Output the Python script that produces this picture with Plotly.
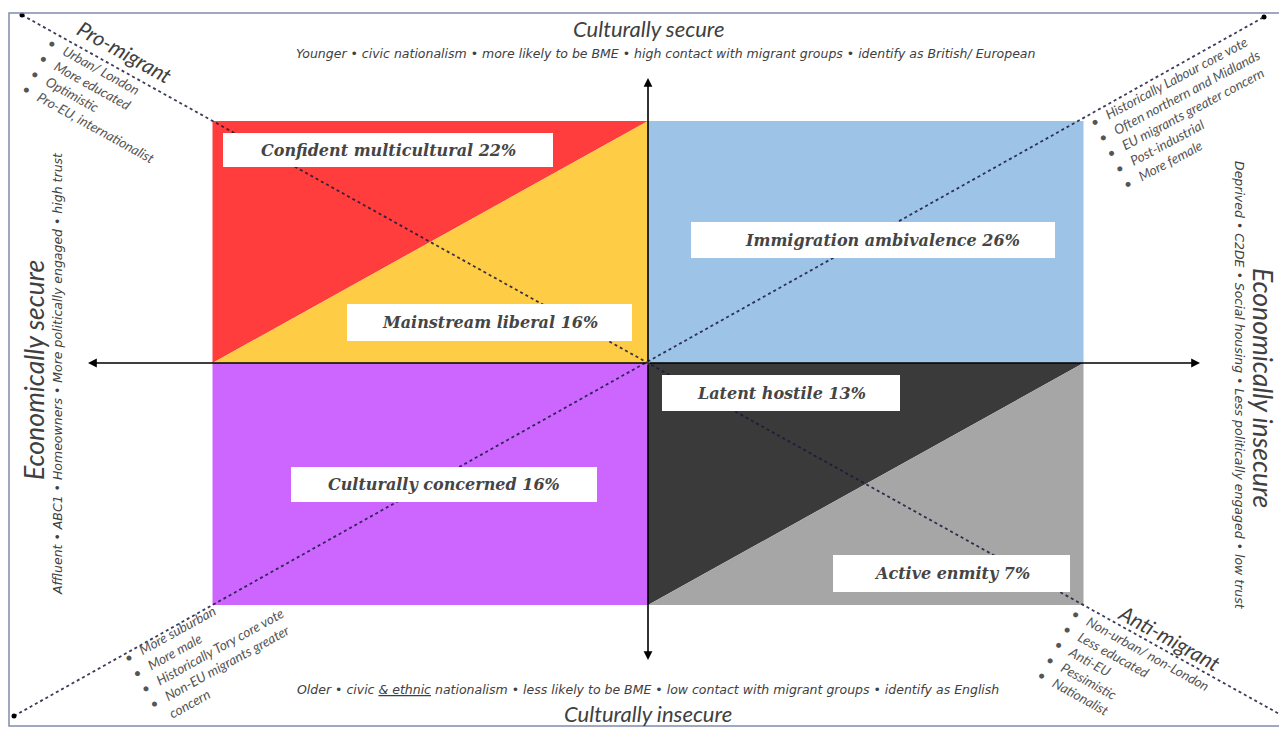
import plotly.graph_objects as go

# ---------------- data ----------------
segments = ["Confident multicultural", "Mainstream liberal", "Immigration ambivalence",
            "Latent hostile", "Culturally concerned", "Active enmity"]
shares = [22, 16, 26, 13, 16, 7]
segment_colors = ["#FF3D3D", "#FFCC45", "#9DC3E6", "#3A3A3A", "#CC66FF", "#A6A6A6"]

axis_titles = ["Culturally secure", "Culturally insecure",
               "Economically secure", "Economically insecure"]
top_traits = ["Younger", "civic nationalism", "more likely to be BME",
              "high contact with migrant groups", "identify as British/ European"]
bottom_traits = ["Older", "civic <u>&amp; ethnic</u> nationalism", "less likely to be BME",
                 "low contact with migrant groups", "identify as English"]
left_traits = ["Affluent", "ABC1", "Homeowners", "More politically engaged", "high trust"]
right_traits = ["Deprived", "C2DE", "Social housing", "Less politically engaged", "low trust"]

corner_titles = ["Pro-migrant", "Anti-migrant"]
pro_migrant_traits = ["Urban/ London", "More educated", "Optimistic", "Pro-EU, internationalist"]
labour_traits = ["Historically Labour core vote", "Often northern and Midlands",
                 "EU migrants greater concern", "Post-industrial", "More female"]
tory_traits = ["More suburban", "More male", "Historically Tory core vote",
               "Non-EU migrants greater<br>\u00a0\u00a0\u00a0\u00a0concern"]
anti_migrant_traits = ["Non-urban/ non-London", "Less educated", "Anti-EU",
                       "Pessimistic", "Nationalist"]

# ---------------- geometry (page pixels -> diagram units) ----------------
W, H = 1287, 730
OFF = 8  # page margin around the plot div
CX, CY, UX, UY = 648, 363, 435.5, 242


def X(px):
    return (px - CX) / UX


def Y(py):
    return (CY - py) / UY


fig = go.Figure()

shapes = []
quad_paths = [
    "M -1,1 L 0,1 L -1,0 Z",
    "M 0,1 L 0,0 L -1,0 Z",
    "M 0,0 L 1,0 L 1,1 L 0,1 Z",
    "M 0,0 L 1,0 L 0,-1 Z",
    "M -1,0 L 0,0 L 0,-1 L -1,-1 Z",
    "M 1,0 L 1,-1 L 0,-1 Z",
]
for p, c in zip(quad_paths, segment_colors):
    shapes.append(dict(type="path", path=p, fillcolor=c, line=dict(width=0),
                       layer="below", xref="x", yref="y"))

shapes.append(dict(type="rect", x0=X(9), x1=X(1283), y0=Y(13), y1=Y(726),
                   line=dict(color="#7f8cab", width=1.5), layer="above", xref="x", yref="y"))

box_px = [(223, 133, 553, 167), (347, 304, 632, 341), (691, 222, 1055, 258),
          (662, 375, 900, 411), (291, 467, 597, 502), (833, 555, 1070, 592)]
text_dx = [0, 0, 9, 0, 0, 0]
annotations = []
for (x0, y0, x1, y1), name, share, dx in zip(box_px, segments, shares, text_dx):
    shapes.append(dict(type="rect", x0=X(x0), x1=X(x1), y0=Y(y1), y1=Y(y0),
                       fillcolor="white", line=dict(width=0), layer="above",
                       xref="x", yref="y"))
    annotations.append(dict(x=X((x0 + x1) / 2 + dx), y=Y((y0 + y1) / 2), xref="x", yref="y",
                            text=f"{name} {share}%", showarrow=False,
                            font=dict(family="DejaVu Serif", size=16, color="#454545",
                                      weight="bold", style="italic")))

dot_line = dict(color="rgba(25,25,60,0.85)", width=1.8, dash="dot")
fig.add_trace(go.Scatter(x=[X(22), X(1283)], y=[Y(15), Y(716)], mode="lines+markers",
                         line=dot_line, marker=dict(size=5, color="black"),
                         hoverinfo="skip", showlegend=False))
fig.add_trace(go.Scatter(x=[X(14), X(1264)], y=[Y(716), Y(17)], mode="lines+markers",
                         line=dot_line, marker=dict(size=5, color="black"),
                         hoverinfo="skip", showlegend=False))

arrow_ends = [(X(88), 0), (X(1200), 0), (0, Y(78)), (0, Y(660))]
for ex, ey in arrow_ends:
    annotations.append(dict(x=ex, y=ey, ax=0, ay=0, xref="x", yref="y", axref="x", ayref="y",
                            text="", showarrow=True, arrowhead=2, arrowsize=1.1,
                            arrowwidth=1.6, arrowcolor="black"))

title_font = dict(family="Lato", size=22, color="#404040", style="italic")
side_title_font = dict(family="Lato", size=26.5, color="#404040", style="italic")
sub_font = dict(family="DejaVu Sans", size=12.5, color="#404040", style="italic")
sep = " \u2022 "

annotations.append(dict(x=X(648), y=Y(28), text=axis_titles[0], showarrow=False, font=title_font))
annotations.append(dict(x=X(666), y=Y(53), text=sep.join(top_traits), showarrow=False, font=sub_font))
annotations.append(dict(x=X(648), y=Y(713), text=axis_titles[1], showarrow=False, font=title_font))
annotations.append(dict(x=X(648), y=Y(689), text=sep.join(bottom_traits), showarrow=False, font=sub_font))
annotations.append(dict(x=X(34), y=Y(370), text=axis_titles[2], showarrow=False,
                        font=side_title_font, textangle=-90))
annotations.append(dict(x=X(57), y=Y(374), text=sep.join(left_traits), showarrow=False,
                        font=sub_font, textangle=-90))
annotations.append(dict(x=X(1263), y=Y(388), text=axis_titles[3], showarrow=False,
                        font=side_title_font, textangle=90))
annotations.append(dict(x=X(1240), y=Y(385), text=sep.join(right_traits), showarrow=False,
                        font=sub_font, textangle=90))

corner_title_font = dict(family="Lato", size=21, color="#404040", style="italic")
bullet_font = dict(family="Lato", size=13.5, color="#555555", style="italic")


def bullets(items):
    return "<br>".join("\u2022\u00a0\u00a0\u00a0" + t for t in items)


annotations.append(dict(x=X(125), y=Y(51), text=corner_titles[0], showarrow=False,
                        font=corner_title_font, textangle=29))
annotations.append(dict(x=X(101), y=Y(100), text=bullets(pro_migrant_traits), showarrow=False,
                        font=bullet_font, textangle=29, align="left"))
annotations.append(dict(x=X(1187), y=Y(112), text=bullets(labour_traits), showarrow=False,
                        font=bullet_font, textangle=-28, align="left"))
annotations.append(dict(x=X(212), y=Y(651), text=bullets(tory_traits), showarrow=False,
                        font=bullet_font, textangle=-29, align="left"))
annotations.append(dict(x=X(1170), y=Y(637), text=corner_titles[1], showarrow=False,
                        font=corner_title_font, textangle=29))
annotations.append(dict(x=X(1123), y=Y(680), text=bullets(anti_migrant_traits), showarrow=False,
                        font=bullet_font, textangle=29, align="left"))

fig.update_layout(
    width=W - OFF, height=H - OFF, margin=dict(l=0, r=0, t=0, b=0),
    paper_bgcolor="white", plot_bgcolor="white",
    xaxis=dict(range=[X(OFF), X(W)], visible=False, fixedrange=True),
    yaxis=dict(range=[Y(H), Y(OFF)], visible=False, fixedrange=True),
    shapes=shapes, annotations=annotations, showlegend=False,
)

fig.write_html("out.html")
